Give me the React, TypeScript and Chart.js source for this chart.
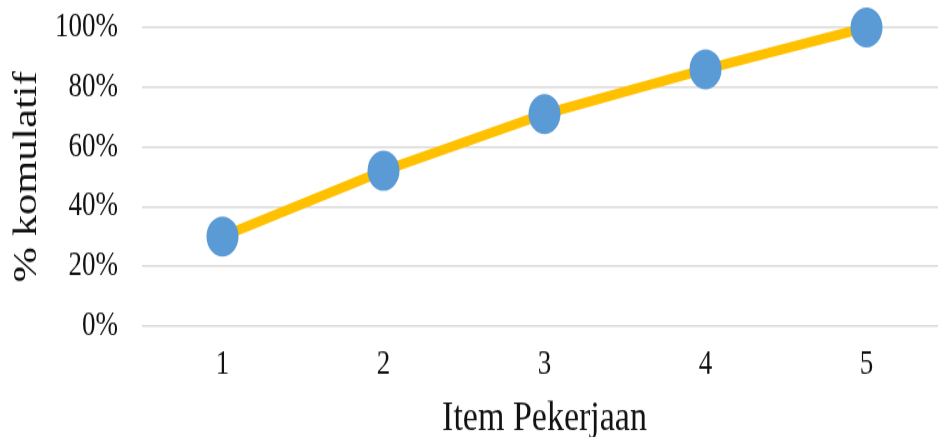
import React, { useEffect, useRef } from "react";
import { Chart, registerables } from "chart.js";

Chart.register(...registerables);

const categories: string[] = ["1", "2", "3", "4", "5"];
const cumulativePercent: number[] = [30, 52, 71, 86, 100];
const yTickValues: number[] = [0, 20, 40, 60, 80, 100];
const xTitle = "Item Pekerjaan";
const yTitle = "% komulatif";

const STRETCH = 1.25;
const CANVAS_W = 947;
const CANVAS_H = 350;

export default function App() {
  const ref = useRef<HTMLCanvasElement | null>(null);

  useEffect(() => {
    document.body.style.margin = "0";
    const canvas = ref.current;
    if (!canvas) return;
    const chart = new Chart(canvas, {
      type: "line",
      data: {
        labels: categories,
        datasets: [
          {
            data: cumulativePercent,
            borderColor: "#FFC000",
            borderWidth: 8,
            backgroundColor: "#5B9BD5",
            pointBackgroundColor: "#5B9BD5",
            pointBorderWidth: 0,
            pointRadius: 16,
            pointHoverRadius: 16,
            tension: 0,
            fill: false,
            clip: false,
          },
        ],
      },
      options: {
        animation: false,
        responsive: false,
        devicePixelRatio: 1,
        layout: { autoPadding: false, padding: { top: 22, right: 0, bottom: 0, left: 0 } },
        plugins: {
          legend: { display: false },
          tooltip: { enabled: false },
        },
        scales: {
          x: {
            type: "category",
            offset: true,
            grid: { display: false, drawTicks: false },
            border: { display: false },
            ticks: {
              padding: 15,
              color: "#111",
              font: { family: "Liberation Serif", size: 27 },
            },
            title: {
              display: true,
              text: xTitle,
              color: "#111",
              font: { family: "Liberation Serif", size: 34, lineHeight: 0.9 },
              padding: { top: 0, bottom: 0 },
            },
            afterFit: (scale: any) => {
              scale.height = 89.2;
              scale.paddingLeft = 0;
              scale.paddingRight = 0;
            },
          },
          y: {
            min: 0,
            max: 100,
            grid: { color: "#d9d9d9", lineWidth: 1.5, drawTicks: false },
            border: { display: false },
            afterBuildTicks: (scale: any) => {
              scale.ticks = yTickValues.map((v) => ({ value: v }));
            },
            ticks: {
              padding: 24,
              color: "#111",
              font: { family: "Liberation Serif", size: 27 },
              callback: (v: any) => `${v}%`,
            },
            title: {
              display: true,
              text: yTitle,
              color: "#111",
              font: { family: "Liberation Serif", size: 34 },
              padding: { top: 7, bottom: 0 },
            },
            afterFit: (scale: any) => {
              scale.width = 142;
              scale.paddingTop = 0;
              scale.paddingBottom = 0;
            },
          },
        },
      },
    } as any);
    return () => chart.destroy();
  }, []);

  return (
    <div style={{ width: 938, height: 437, overflow: "hidden", position: "relative", background: "#fff" }}>
      <div
        style={{
          width: CANVAS_W,
          height: CANVAS_H,
          transform: `scaleY(${STRETCH})`,
          transformOrigin: "top left",
        }}
      >
        <canvas ref={ref} width={CANVAS_W} height={CANVAS_H} />
      </div>
    </div>
  );
}
